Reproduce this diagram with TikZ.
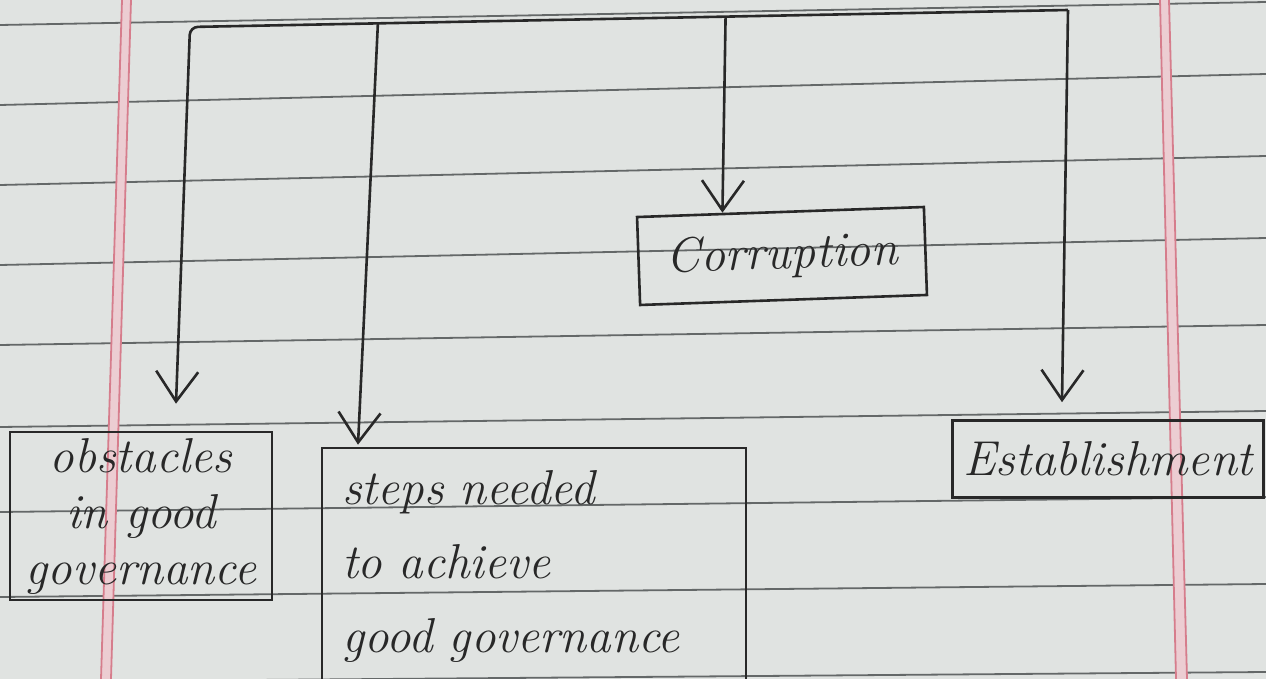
\documentclass[tikz,border=0pt]{standalone}
\usepackage{fontspec}
\usetikzlibrary{arrows.meta,calc}
\definecolor{paper}{RGB}{224,227,225}
\definecolor{rulecol}{RGB}{100,104,104}
\definecolor{margincol}{RGB}{214,125,140}
\definecolor{marginfill}{RGB}{236,205,210}
\definecolor{ink}{RGB}{40,40,40}
\newcommand\handfont{\fontsize{49}{56}\selectfont\itshape}
\tikzset{
  box/.style={draw=ink, line width=2.6pt, rectangle, inner sep=0pt, font=\handfont, text=ink},
  link/.style={draw=ink, line width=2.6pt},
  arr/.style={link, -{Straight Barb[length=30pt,width=42pt,line width=2.6pt]}},
  ruled/.style={draw=rulecol, line width=1.8pt},
  marginline/.style={draw=margincol, line width=1.8pt}
}
\begin{document}
\begin{tikzpicture}[x=1pt,y=-1pt]
\fill[paper] (0,0) rectangle (1266,679);
\useasboundingbox (0,0) rectangle (1266,679);
\begin{scope}
\clip (0,0) rectangle (1266,679);
\foreach \l/\r in {25/2,105/74,185/156,265/238,345/325,427/411,512/497,597/584,682/672}
  \draw[ruled] (0,\l) -- (1266,\r);
\fill[marginfill] (122,0) -- (131,0) -- (111,679) -- (101,679) -- cycle;
\fill[marginfill] (1160,0) -- (1169,0) -- (1187,679) -- (1176,679) -- cycle;
\draw[marginline] (122,0) -- (101,679);
\draw[marginline] (131,0) -- (111,679);
\draw[marginline] (1160,0) -- (1176,679);
\draw[marginline] (1169,0) -- (1187,679);

\node[box, minimum width=287pt, minimum height=88pt, rotate=2] (corr) at (782,256) {Corruption};
\node[box, minimum width=262pt, minimum height=168pt, align=center] (obst) at (141,516) {obstacles\\in good\\governance};
\node[box, minimum width=424pt, minimum height=236pt, align=left, text width=384pt, font=\fontsize{49}{74}\selectfont\itshape] (steps) at (534,566) {steps needed\\to achieve\\good governance};
\node[box, minimum width=311pt, minimum height=77pt] (est) at (1108,459) {Establishment};

\coordinate (tl) at (190,27);
\coordinate (tr) at (1068,10);
\draw[arr, rounded corners=8pt] (tr) -- (tl) -- ($(obst.north)+(35,-27)$);
\draw[arr] ($(tl)!0.214!(tr)$) -- ($(steps.north)+(-176,-2)$);
\draw[arr] ($(tl)!0.61!(tr)$) -- ($(corr.north)+(-58,2)$);
\draw[arr] (tr) -- ($(est.north)+(-46,-17)$);
\end{scope}
\end{tikzpicture}
\end{document}
